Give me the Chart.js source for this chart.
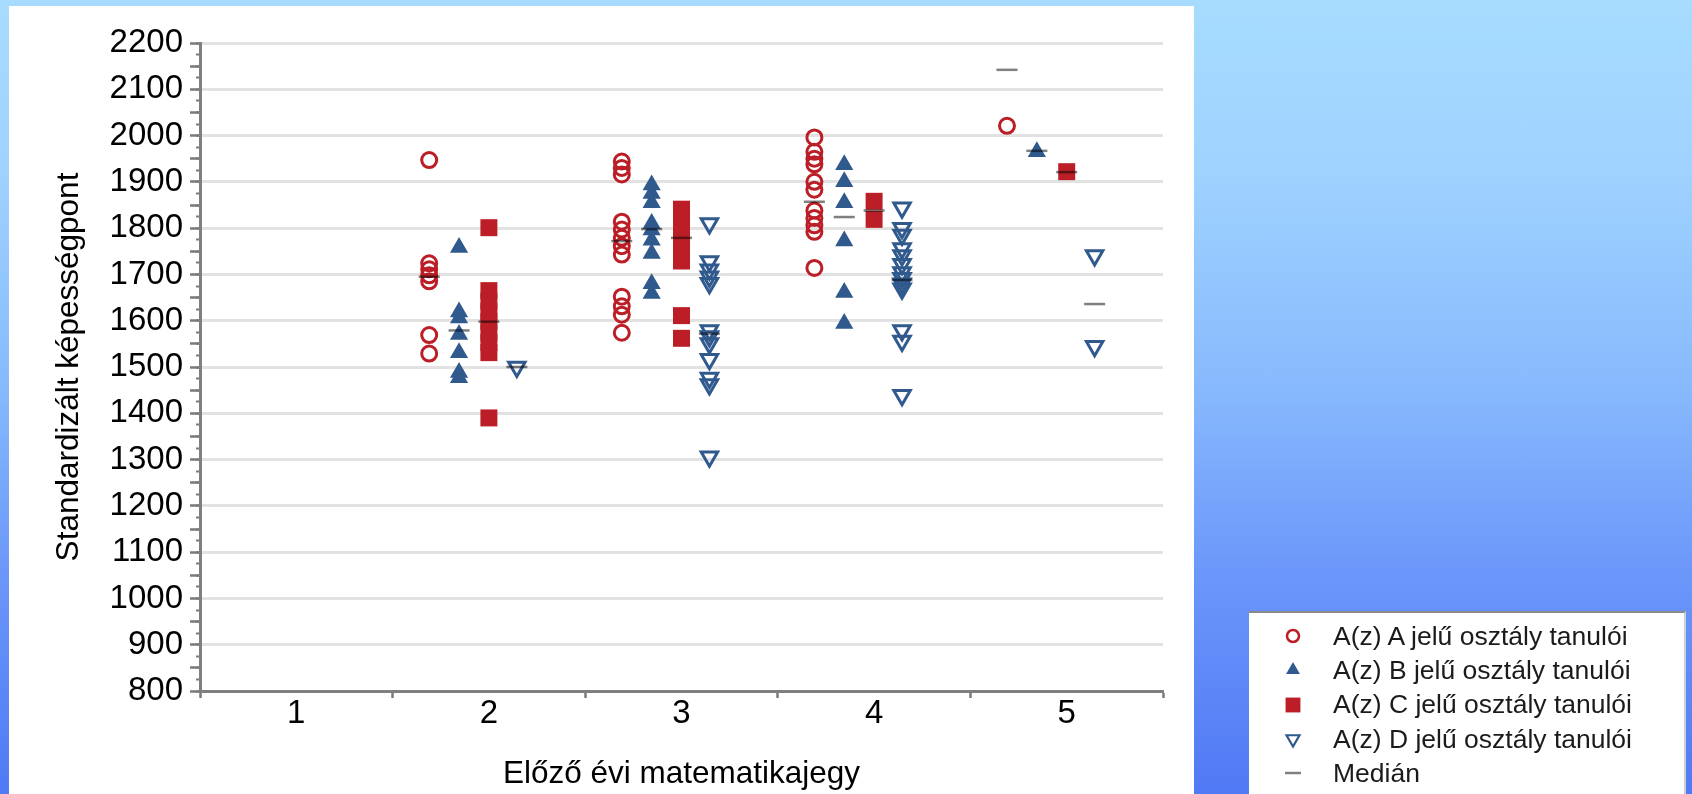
<!DOCTYPE html>
<html lang="hu">
<head>
<meta charset="utf-8">
<title>Standardizált képességpont</title>
<script src="https://cdn.jsdelivr.net/npm/chart.js@4.4.1/dist/chart.umd.min.js"></script>
<style>
  html, body { margin: 0; padding: 0; }
  body {
    width: 1692px; height: 794px; overflow: hidden; position: relative;
    background: linear-gradient(to bottom, #a7dcff 0%, #9fd2ff 22%, #86b8fd 50%, #6c97fa 72%, #5079f5 100%);
    font-family: "Liberation Sans", Arial, sans-serif;
  }
  #panel { position: absolute; left: 9px; top: 6px; width: 1185px; height: 788px; background: #fff; }
  #chart { position: absolute; left: 0; top: 0; }
  #legend {
    position: absolute; left: 1249px; top: 611px; width: 437px; height: 183px;
    background: #fff; border-top: 2px solid #8a8a8a; border-right: 2px solid #cfcfcf;
    box-sizing: border-box; padding-top: 6px;
  }
  .row { height: 34.3px; display: flex; align-items: center; }
  .row canvas { margin-left: 32px; margin-right: 28px; }
  .row span { font-size: 26.5px; color: #1b1b1b; white-space: nowrap; }
</style>
</head>
<body>
<div id="panel"></div>
<canvas id="chart" width="1692" height="794"></canvas>
<div id="legend"></div>
<script>
// osztályzatok (x tengely)
const gradeLabels = ['1', '2', '3', '4', '5'];

// pontszámok osztályonként, jegyenként (1..5)
const classA = [[], [1947, 1724, 1711, 1698, 1685, 1569, 1529],
  [1944, 1930, 1916, 1814, 1797, 1779, 1761, 1743, 1652, 1631, 1613, 1574],
  [1996, 1965, 1950, 1938, 1900, 1883, 1838, 1822, 1806, 1792, 1714],
  [2021]];
const classB = [[], [1758, 1619, 1606, 1570, 1531, 1488, 1477],
  [1893, 1875, 1855, 1810, 1796, 1774, 1745, 1680, 1659],
  [1937, 1900, 1855, 1772, 1661, 1594],
  [1965]];
const classC = [[], [1801, 1665, 1642, 1620, 1598, 1575, 1553, 1531, 1390],
  [1841, 1815, 1790, 1765, 1745, 1729, 1611, 1562],
  [1858, 1819],
  [1922]];
const classD = [[], [1500],
  [1810, 1728, 1710, 1695, 1681, 1579, 1566, 1551, 1517, 1476, 1462, 1306],
  [1844, 1800, 1785, 1756, 1741, 1722, 1704, 1692, 1680, 1669, 1579, 1556, 1439],
  [1741, 1545]];

// mediánok
const medA = [null, 1695, 1772, 1857, 2142];
const medB = [null, 1579, 1798, 1824, 1967];
const medC = [null, 1598, 1779, 1838, 1921];
const medD = [null, 1500, 1572, 1688, 1636];

const offA = -0.31, offB = -0.155, offC = 0, offD = 0.145;

const piros = '#bb1e26';
const kek = '#30598e';

Chart.defaults.font.family = '"Liberation Sans", Arial, sans-serif';

function pontok(lista, eltolas) {
  const pts = [];
  lista.forEach((ertek, i) => {
    if (ertek === null) return;
    [].concat(ertek).forEach(v => pts.push({ x: i + 1 + eltolas, y: v }));
  });
  return pts;
}

const medianPontok = [].concat(
  pontok(medA, offA), pontok(medB, offB), pontok(medC, offC), pontok(medD, offD));

const ctx = document.getElementById('chart').getContext('2d');

const chart = new Chart(ctx, {
  type: 'scatter',
  data: {
    datasets: [
      {
        label: 'A(z) A jelű osztály tanulói', order: 1,
        data: pontok(classA, offA),
        pointStyle: 'circle', pointRadius: 7.5, pointBorderWidth: 3,
        pointBorderColor: piros, pointBackgroundColor: 'rgba(255,255,255,0)'
      },
      {
        label: 'A(z) B jelű osztály tanulói', order: 2,
        data: pontok(classB, offB),
        pointStyle: 'triangle', pointRadius: 10.5, pointBorderWidth: 0,
        pointBorderColor: kek, pointBackgroundColor: kek
      },
      {
        label: 'A(z) C jelű osztály tanulói', order: 3,
        data: pontok(classC, offC),
        pointStyle: 'rect', pointRadius: 12, pointBorderWidth: 0,
        pointBorderColor: piros, pointBackgroundColor: piros
      },
      {
        label: 'A(z) D jelű osztály tanulói', order: 4,
        data: pontok(classD, offD),
        pointStyle: 'triangle', pointRotation: 180, pointRadius: 9.5, pointBorderWidth: 3,
        pointBorderColor: kek, pointBackgroundColor: 'rgba(255,255,255,0)'
      },
      {
        label: 'Medián', order: 0,
        data: medianPontok,
        pointStyle: 'line', pointRadius: 10.5, pointBorderWidth: 2.5,
        pointBorderColor: 'rgba(0,0,0,0.5)', pointBackgroundColor: 'rgba(0,0,0,0.5)'
      }
    ]
  },
  options: {
    responsive: false,
    animation: false,
    events: [],
    layout: { padding: { top: 43, right: 529, left: 0, bottom: 0 } },
    plugins: { legend: { display: false }, tooltip: { enabled: false } },
    scales: {
      x: {
        type: 'linear', min: 0.5, max: 5.5, position: 'bottom', weight: 0,
        afterBuildTicks: s => { s.ticks = gradeLabels.map((g, i) => ({ value: i + 1 })); },
        ticks: {
          callback: v => gradeLabels[v - 1] || '',
          font: { size: 33 }, color: '#000', padding: 3, autoSkip: false, maxRotation: 0
        },
        grid: { display: false, drawTicks: false },
        border: { display: false },
        title: {
          display: true, text: 'Előző évi matematikajegy',
          font: { size: 31.5 }, color: '#000', padding: { top: 4, bottom: 1 }
        },
        afterFit: s => { s.height = 103; }
      },
      xHatar: {
        type: 'linear', min: 0.5, max: 5.5, position: 'bottom', weight: -1,
        afterBuildTicks: s => {
          s.ticks = gradeLabels.map((g, i) => ({ value: i + 0.5 }))
            .concat([{ value: gradeLabels.length + 0.5 }]);
        },
        ticks: { display: false, autoSkip: false },
        grid: { drawOnChartArea: false, tickLength: 7, tickColor: '#7a7a7a', tickWidth: 2.5 },
        border: { display: true, color: '#7f7f7f', width: 3 },
        afterFit: s => { s.height = 0; }
      },
      y: {
        type: 'linear', min: 800, max: 2200, position: 'left', weight: 1,
        ticks: {
          stepSize: 50, autoSkip: false,
          callback: v => (v % 100 === 0 ? v : ''),
          font: { size: 33 }, color: '#000', padding: 7
        },
        grid: {
          color: c => (c.tick && c.tick.value % 100 === 0 ? '#e2e2e2' : 'rgba(0,0,0,0)'),
          lineWidth: 3, tickLength: 10, tickColor: '#7a7a7a', tickWidth: 2.5
        },
        border: { display: true, color: '#7f7f7f', width: 3 },
        title: {
          display: true, text: 'Standardizált képességpont',
          font: { size: 31.5 }, color: '#000', padding: { top: 50, bottom: 0 }
        },
        afterFit: s => { s.width = 200; }
      },
      yKis: {
        type: 'linear', min: 800, max: 2200, position: 'left', weight: 0,
        ticks: { stepSize: 25, display: false, autoSkip: false },
        grid: { drawOnChartArea: false, tickLength: 4, tickColor: '#7a7a7a', tickWidth: 2 },
        border: { display: false },
        afterFit: s => { s.width = 0; }
      }
    }
  }
});

// jelmagyarázat külön dobozban, a grafikon mellett
const jelMeret = [
  { radius: 6, borderWidth: 2.5 },
  { radius: 8, borderWidth: 0 },
  { radius: 10.5, borderWidth: 0 },
  { radius: 7.5, borderWidth: 2.2 },
  { radius: 8, borderWidth: 2.5 }
];

const legendBox = document.getElementById('legend');
chart.data.datasets.forEach((ds, i) => {
  const row = document.createElement('div');
  row.className = 'row';
  const c = document.createElement('canvas');
  c.width = 24; c.height = 24;
  const g = c.getContext('2d');
  g.fillStyle = ds.pointBackgroundColor;
  g.strokeStyle = ds.label === 'Medián' ? '#808080' : ds.pointBorderColor;
  g.lineWidth = jelMeret[i].borderWidth;
  Chart.helpers.drawPoint(g, {
    pointStyle: ds.pointStyle,
    rotation: ds.pointRotation || 0,
    radius: jelMeret[i].radius,
    borderWidth: jelMeret[i].borderWidth
  }, 12, 12);
  const t = document.createElement('span');
  t.textContent = ds.label;
  row.appendChild(c);
  row.appendChild(t);
  legendBox.appendChild(row);
});
</script>
</body>
</html>
